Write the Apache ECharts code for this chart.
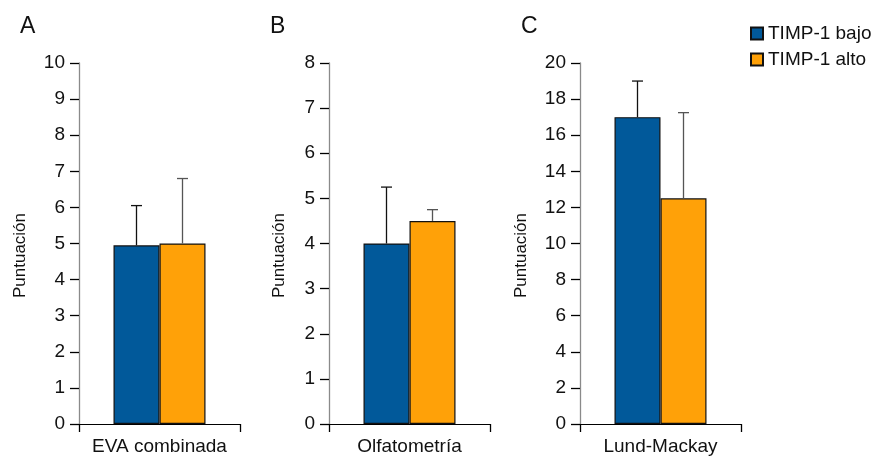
<!DOCTYPE html>
<html>
<head>
<meta charset="utf-8">
<script src="https://cdn.jsdelivr.net/npm/echarts@6/dist/echarts.min.js"></script>
<style>
html,body{margin:0;padding:0;background:#fff;}
#chart{width:875px;height:459px;}
</style>
</head>
<body>
<div id="chart"></div>
<script>
// Data
var panelLabels = ['A', 'B', 'C'];
var categories = ['EVA combinada', 'Olfatometría', 'Lund-Mackay'];
var seriesNames = ['TIMP-1 bajo', 'TIMP-1 alto'];
var bajo = [4.95, 4.0, 17.0];
var alto = [5.0, 4.5, 12.5];
var bajoErr = [1.1, 1.25, 2.0];
var altoErr = [1.8, 0.25, 4.75];
var yMax = [10, 8, 20];
var yInterval = [1, 1, 2];

// Layout / style
var gridLeft = [79, 329, 580];
var titleLeft = [20, 270, 521];
var gridWidth = 161;
var gridTop = 63;
var gridHeight = 361;
var BAR_W = 46;
var colors = ['#01599A', '#FFA108'];
var errColors = ['#111111', '#555555'];
var nameGaps = [50, 41, 50];
var FONT = 'Liberation Sans, Arial, sans-serif';

var chart = echarts.init(document.getElementById('chart'), null, {renderer: 'canvas'});

var grids = [], xAxes = [], yAxes = [], series = [], titles = [];

function errRender(offsetSign, color) {
  return function (params, api) {
    var v = api.value(1);
    var e = api.value(2);
    var base = api.coord([api.value(0), v]);
    var top = api.coord([api.value(0), v + e]);
    var x = base[0] + offsetSign * BAR_W / 2;
    var capHalf = 5.5;
    return {
      type: 'group',
      children: [
        {type: 'line', shape: {x1: x, y1: base[1], x2: x, y2: top[1]},
         style: {stroke: color, lineWidth: 1.3}},
        {type: 'line', shape: {x1: x - capHalf, y1: top[1], x2: x + capHalf, y2: top[1]},
         style: {stroke: color, lineWidth: 1.3}}
      ]
    };
  };
}

for (var i = 0; i < 3; i++) {
  grids.push({left: gridLeft[i], top: gridTop, width: gridWidth, height: gridHeight});
  xAxes.push({
    type: 'category', gridIndex: i, data: [categories[i]],
    axisLine: {lineStyle: {color: '#000', width: 1}},
    axisTick: {show: true, length: 8, lineStyle: {color: '#000', width: 1.3}},
    axisLabel: {color: '#111', fontSize: 19, fontFamily: FONT, margin: 13}
  });
  yAxes.push({
    type: 'value', gridIndex: i, min: 0, max: yMax[i], interval: yInterval[i],
    name: 'Puntuación', nameLocation: 'middle', nameGap: nameGaps[i],
    nameTextStyle: {color: '#111', fontSize: 17, fontFamily: FONT, padding: [0, 24, 0, 0]},
    axisLine: {show: true, lineStyle: {color: '#8a8a8a', width: 1.3}},
    axisTick: {show: true, length: 9, lineStyle: {color: '#000', width: 1.3}},
    axisLabel: {color: '#111', fontSize: 19, fontFamily: FONT, margin: 14},
    splitLine: {show: false}
  });
  titles.push({
    text: panelLabels[i], left: titleLeft[i], top: 15, padding: 0,
    textStyle: {fontSize: 23, fontWeight: 'normal', color: '#111', fontFamily: FONT}
  });
  series.push({
    name: seriesNames[0], type: 'bar', xAxisIndex: i, yAxisIndex: i,
    data: [bajo[i]], barWidth: BAR_W, barGap: '0%',
    itemStyle: {color: colors[0], borderColor: '#111', borderWidth: 1.2}
  });
  series.push({
    name: seriesNames[1], type: 'bar', xAxisIndex: i, yAxisIndex: i,
    data: [alto[i]], barWidth: BAR_W, barGap: '0%',
    itemStyle: {color: colors[1], borderColor: '#111', borderWidth: 1.2}
  });
  series.push({
    type: 'custom', xAxisIndex: i, yAxisIndex: i, z: 5,
    renderItem: errRender(-1, errColors[0]),
    data: [[0, bajo[i], bajoErr[i]]]
  });
  series.push({
    type: 'custom', xAxisIndex: i, yAxisIndex: i, z: 5,
    renderItem: errRender(1, errColors[1]),
    data: [[0, alto[i], altoErr[i]]]
  });
}

chart.setOption({
  animation: false,
  backgroundColor: '#fff',
  title: titles,
  legend: {
    data: seriesNames, orient: 'vertical', left: 750, top: 24,
    itemWidth: 12, itemHeight: 12, itemGap: 7, padding: 0,
    icon: 'rect',
    textStyle: {fontSize: 19, color: '#111', fontFamily: FONT}
  },
  grid: grids,
  xAxis: xAxes,
  yAxis: yAxes,
  series: series
});
</script>
</body>
</html>
